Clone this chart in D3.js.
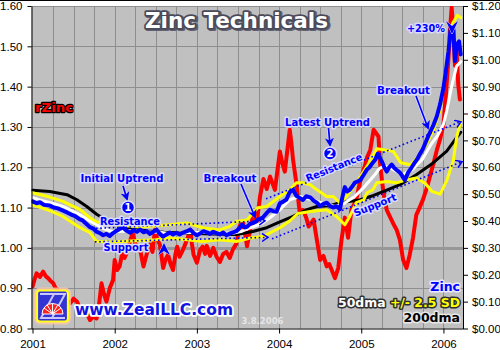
<!DOCTYPE html>
<html><head><meta charset="utf-8">
<script src="https://cdn.jsdelivr.net/npm/d3@7"></script>
<style>body{margin:0;background:#fff;} svg{display:block;}</style>
</head><body>
<svg id="c" width="500" height="350"></svg>
<script>
// ---------- DATA (decimal year, value) ----------
const yearTicks = [2001, 2002, 2003, 2004, 2005, 2006];
const leftTicks = [0.8, 0.9, 1.0, 1.1, 1.2, 1.3, 1.4, 1.5, 1.6];
const rightTicks = [0, 0.1, 0.2, 0.3, 0.4, 0.5, 0.6, 0.7, 0.8, 0.9, 1.0, 1.1, 1.2];

const zinc = [
[2001.00,0.473],[2001.05,0.466],[2001.09,0.470],[2001.14,0.460],[2001.21,0.458],[2001.26,0.450],[2001.31,0.447],[2001.36,0.440],[2001.42,0.432],[2001.47,0.424],[2001.52,0.418],[2001.57,0.407],[2001.61,0.402],[2001.66,0.388],[2001.70,0.377],[2001.74,0.372],[2001.78,0.360],[2001.82,0.355],[2001.86,0.347],[2001.90,0.352],[2001.94,0.344],[2001.98,0.355],[2002.02,0.363],[2002.06,0.370],[2002.10,0.376],[2002.14,0.365],[2002.19,0.356],[2002.23,0.366],[2002.27,0.360],[2002.31,0.368],[2002.35,0.358],[2002.39,0.362],[2002.43,0.352],[2002.47,0.360],[2002.51,0.368],[2002.55,0.352],[2002.59,0.342],[2002.63,0.350],[2002.67,0.357],[2002.71,0.350],[2002.75,0.356],[2002.79,0.350],[2002.84,0.358],[2002.88,0.362],[2002.92,0.368],[2002.96,0.355],[2003.00,0.347],[2003.04,0.354],[2003.08,0.362],[2003.12,0.358],[2003.16,0.352],[2003.20,0.360],[2003.24,0.355],[2003.28,0.350],[2003.32,0.357],[2003.36,0.347],[2003.40,0.353],[2003.44,0.358],[2003.48,0.362],[2003.52,0.374],[2003.55,0.387],[2003.58,0.376],[2003.61,0.378],[2003.65,0.390],[2003.68,0.392],[2003.72,0.398],[2003.74,0.405],[2003.78,0.410],[2003.80,0.412],[2003.85,0.430],[2003.89,0.442],[2003.93,0.436],[2003.97,0.434],[2004.01,0.466],[2004.05,0.472],[2004.09,0.480],[2004.13,0.508],[2004.17,0.516],[2004.21,0.494],[2004.25,0.486],[2004.29,0.478],[2004.33,0.492],[2004.38,0.488],[2004.42,0.476],[2004.46,0.468],[2004.50,0.455],[2004.54,0.464],[2004.58,0.468],[2004.62,0.456],[2004.66,0.450],[2004.70,0.455],[2004.74,0.444],[2004.77,0.488],[2004.80,0.526],[2004.83,0.510],[2004.86,0.516],[2004.90,0.532],[2004.92,0.542],[2004.96,0.548],[2004.99,0.553],[2005.03,0.572],[2005.07,0.592],[2005.10,0.600],[2005.14,0.617],[2005.17,0.628],[2005.20,0.650],[2005.25,0.622],[2005.28,0.600],[2005.31,0.584],[2005.34,0.600],[2005.37,0.610],[2005.40,0.598],[2005.43,0.590],[2005.47,0.580],[2005.49,0.572],[2005.53,0.552],[2005.57,0.580],[2005.61,0.598],[2005.65,0.617],[2005.68,0.630],[2005.71,0.647],[2005.75,0.668],[2005.78,0.690],[2005.81,0.712],[2005.84,0.732],[2005.88,0.758],[2005.92,0.790],[2005.96,0.835],[2006.00,0.895],[2006.03,0.960],[2006.06,1.030],[2006.09,1.120],[2006.12,1.110],[2006.14,0.995],[2006.16,1.055],[2006.19,1.068],[2006.21,1.020]
];

const ma50 = [
[2001.00,0.487],[2001.12,0.476],[2001.25,0.465],[2001.37,0.454],[2001.47,0.440],[2001.58,0.423],[2001.68,0.404],[2001.78,0.386],[2001.88,0.370],[2001.98,0.360],[2002.10,0.362],[2002.25,0.364],[2002.40,0.360],[2002.55,0.358],[2002.70,0.352],[2002.85,0.356],[2003.00,0.357],[2003.15,0.357],[2003.30,0.354],[2003.45,0.355],[2003.55,0.362],[2003.65,0.375],[2003.80,0.392],[2003.90,0.415],[2004.01,0.442],[2004.13,0.479],[2004.25,0.491],[2004.40,0.479],[2004.52,0.467],[2004.68,0.454],[2004.80,0.467],[2004.92,0.491],[2005.04,0.528],[2005.16,0.570],[2005.22,0.595],[2005.28,0.605],[2005.37,0.595],[2005.50,0.572],[2005.62,0.591],[2005.74,0.628],[2005.86,0.690],[2005.93,0.718],[2006.00,0.760],[2006.04,0.810],[2006.10,0.901],[2006.16,0.976],[2006.21,0.993]
];

const bandUpper = [
[2001.00,0.505],[2001.20,0.490],[2001.37,0.473],[2001.58,0.442],[2001.70,0.412],[2001.78,0.397],[2001.94,0.388],[2002.10,0.383],[2002.30,0.378],[2002.50,0.382],[2002.67,0.386],[2002.88,0.393],[2003.07,0.375],[2003.28,0.367],[2003.40,0.380],[2003.48,0.398],[2003.61,0.404],[2003.74,0.449],[2003.85,0.454],[2004.01,0.491],[2004.13,0.516],[2004.21,0.542],[2004.29,0.542],[2004.38,0.535],[2004.46,0.516],[2004.58,0.491],[2004.66,0.491],[2004.74,0.468],[2004.82,0.491],[2004.94,0.542],[2005.07,0.603],[2005.19,0.669],[2005.27,0.665],[2005.39,0.659],[2005.48,0.617],[2005.60,0.609],[2005.72,0.647],[2005.80,0.691],[2005.88,0.740],[2005.96,0.814],[2006.02,0.945],[2006.07,1.075],[2006.11,1.135],[2006.17,1.165],[2006.21,1.157]
];

const bandLower = [
[2001.00,0.460],[2001.20,0.440],[2001.37,0.417],[2001.58,0.375],[2001.70,0.357],[2001.78,0.324],[2001.94,0.322],[2002.20,0.326],[2002.50,0.330],[2002.67,0.337],[2002.88,0.330],[2003.07,0.324],[2003.28,0.330],[2003.48,0.324],[2003.65,0.337],[2003.80,0.342],[2003.89,0.356],[2004.01,0.375],[2004.13,0.400],[2004.23,0.428],[2004.38,0.435],[2004.46,0.438],[2004.58,0.442],[2004.70,0.417],[2004.80,0.386],[2004.86,0.417],[2004.94,0.468],[2005.03,0.479],[2005.07,0.505],[2005.14,0.516],[2005.19,0.542],[2005.31,0.547],[2005.43,0.542],[2005.55,0.553],[2005.67,0.560],[2005.78,0.540],[2005.86,0.510],[2005.96,0.500],[2006.04,0.550],[2006.12,0.625],[2006.16,0.710],[2006.21,0.770]
];

const ma200 = [
[2001.00,0.514],[2001.21,0.510],[2001.42,0.498],[2001.54,0.479],[2001.66,0.454],[2001.78,0.425],[2001.94,0.395],[2002.06,0.383],[2002.20,0.372],[2002.40,0.363],[2002.60,0.358],[2002.90,0.354],[2003.20,0.352],[2003.48,0.350],[2003.68,0.361],[2003.85,0.375],[2004.01,0.397],[2004.17,0.417],[2004.34,0.442],[2004.46,0.454],[2004.62,0.457],[2004.74,0.468],[2004.98,0.478],[2005.15,0.495],[2005.31,0.515],[2005.47,0.535],[2005.67,0.572],[2005.87,0.615],[2006.04,0.660],[2006.16,0.710],[2006.21,0.730]
];

const rZinc = [
[2001.00,0.904],[2001.03,0.925],[2001.05,0.937],[2001.09,0.928],[2001.13,0.941],[2001.16,0.930],[2001.19,0.925],[2001.22,0.918],[2001.25,0.913],[2001.28,0.900],[2001.31,0.896],[2001.34,0.884],[2001.37,0.879],[2001.41,0.872],[2001.46,0.863],[2001.50,0.874],[2001.54,0.867],[2001.58,0.850],[2001.62,0.854],[2001.66,0.838],[2001.70,0.821],[2001.74,0.830],[2001.78,0.825],[2001.81,0.860],[2001.84,0.912],[2001.87,0.885],[2001.90,0.867],[2001.94,0.900],[2001.98,0.920],[2002.00,0.970],[2002.03,0.945],[2002.06,0.954],[2002.09,0.985],[2002.12,0.975],[2002.16,0.995],[2002.19,1.020],[2002.22,1.037],[2002.25,1.010],[2002.27,1.003],[2002.31,0.995],[2002.35,0.954],[2002.39,0.985],[2002.43,1.008],[2002.46,0.990],[2002.49,1.045],[2002.52,1.020],[2002.55,1.008],[2002.59,0.950],[2002.62,0.972],[2002.65,0.983],[2002.68,0.960],[2002.71,0.945],[2002.74,0.985],[2002.76,1.003],[2002.79,0.978],[2002.83,0.995],[2002.88,1.020],[2002.92,1.045],[2002.94,1.010],[2002.96,0.983],[2003.00,0.963],[2003.04,0.995],[2003.07,1.003],[2003.10,0.985],[2003.12,1.005],[2003.16,0.980],[2003.20,1.000],[2003.24,0.978],[2003.28,0.965],[2003.32,0.985],[2003.36,0.990],[2003.40,0.975],[2003.44,0.997],[2003.48,1.010],[2003.52,1.054],[2003.56,1.066],[2003.59,1.030],[2003.61,1.004],[2003.65,1.047],[2003.69,1.087],[2003.73,1.066],[2003.77,1.129],[2003.81,1.171],[2003.85,1.146],[2003.89,1.177],[2003.92,1.160],[2003.95,1.144],[2004.01,1.239],[2004.04,1.210],[2004.07,1.189],[2004.13,1.293],[2004.15,1.260],[2004.17,1.219],[2004.21,1.161],[2004.25,1.090],[2004.29,1.094],[2004.33,1.075],[2004.36,1.053],[2004.42,1.070],[2004.46,1.020],[2004.50,0.970],[2004.54,0.980],[2004.58,0.954],[2004.61,0.960],[2004.64,0.945],[2004.68,0.925],[2004.72,0.950],[2004.76,1.020],[2004.80,1.075],[2004.84,1.025],[2004.88,1.094],[2004.94,1.119],[2004.97,1.150],[2005.00,1.176],[2005.04,1.200],[2005.07,1.224],[2005.11,1.243],[2005.15,1.293],[2005.17,1.288],[2005.21,1.276],[2005.23,1.206],[2005.27,1.137],[2005.31,1.094],[2005.35,1.077],[2005.39,1.060],[2005.43,1.045],[2005.47,1.020],[2005.51,0.970],[2005.55,0.950],[2005.59,0.983],[2005.63,1.025],[2005.67,1.082],[2005.71,1.100],[2005.75,1.119],[2005.80,1.150],[2005.84,1.181],[2005.88,1.210],[2005.92,1.243],[2005.96,1.270],[2006.00,1.306],[2006.03,1.380],[2006.06,1.467],[2006.08,1.542],[2006.10,1.596],[2006.12,1.542],[2006.14,1.452],[2006.16,1.492],[2006.18,1.405],[2006.20,1.368]
];

// trend channels (date, price)
const res1 = [[2001.773,0.3727],[2003.829,0.4007]];
const sup1 = [[2001.760,0.3224],[2003.865,0.3392]];
const res2 = [[2003.841,0.4827],[2006.213,0.7697]];
const sup2 = [[2003.914,0.3336],[2006.226,0.6206]];

// ---------- SCALES ----------
const P = {l:31.5, r:463, t:6, b:328.5};
const x = d3.scaleLinear().domain([2001, 2006.238]).range([32.5, 463]);
const yL = d3.scaleLinear().domain([0.8, 1.6]).range([P.b, P.t]);
const yR = d3.scaleLinear().domain([0, 1.2]).range([P.b, P.t]);

const svg = d3.select("#c");
const FONT = "'DejaVu Sans', Verdana, sans-serif";
const defs = svg.append("defs");
defs.append("clipPath").attr("id","clip").append("rect")
  .attr("x",P.l).attr("y",P.t).attr("width",P.r-P.l).attr("height",P.b-P.t);
defs.append("marker").attr("id","arr").attr("markerUnits","userSpaceOnUse")
  .attr("markerWidth",9).attr("markerHeight",9).attr("refX",7).attr("refY",4.5).attr("orient","auto")
  .append("path").attr("d","M0,0 L9,4.5 L0,9 L2.5,4.5 Z").attr("fill","#0000ff");
defs.append("marker").attr("id","chev").attr("markerUnits","userSpaceOnUse")
  .attr("markerWidth",10).attr("markerHeight",10).attr("refX",6).attr("refY",4).attr("orient","auto")
  .append("path").attr("d","M0,0 L6,4 L0,8").attr("fill","none").attr("stroke","#0000ff").attr("stroke-width",1.5);

svg.append("line").attr("x1",0).attr("x2",500).attr("y1",0.5).attr("y2",0.5).attr("stroke","#000");

// plot background
svg.append("rect").attr("x",P.l).attr("y",P.t).attr("width",P.r-P.l).attr("height",P.b-P.t).attr("fill","#c0c0c0");

// grid
const quarters = d3.range(1, 21).map(i => 2001 + i*0.25);
svg.append("g").selectAll("line").data(quarters).join("line")
  .attr("x1", d => Math.round(x(d))+0.5).attr("x2", d => Math.round(x(d))+0.5)
  .attr("y1", P.t).attr("y2", P.b).attr("stroke","#8e8e8e").attr("stroke-width",1);
svg.append("g").selectAll("line").data(leftTicks.filter(v => v > 0.8)).join("line")
  .attr("x1", P.l).attr("x2", P.r)
  .attr("y1", d => Math.round(yL(d))+0.5).attr("y2", d => Math.round(yL(d))+0.5)
  .attr("stroke", d => Math.abs(d-1)<1e-9 ? "#979797" : "#8e8e8e")
  .attr("stroke-width", d => Math.abs(d-1)<1e-9 ? 3 : 1);

// series
const lineR = d3.line().x(d => x(d[0])).y(d => yR(d[1]));
const lineL = d3.line().x(d => x(d[0])).y(d => yL(d[1]));
const plotG = svg.append("g").attr("clip-path","url(#clip)");
function draw(data, gen, color, w) {
  plotG.append("path").datum(data).attr("d", gen).attr("fill","none")
    .attr("stroke", color).attr("stroke-width", w).attr("stroke-linejoin","round").attr("stroke-linecap","round");
}
draw(rZinc, lineL, "#ff0000", 4);
draw(ma200, lineR, "#000000", 3);
draw(ma50, lineR, "#ffffff", 3);
draw(bandUpper, lineR, "#ffff00", 3);
draw(bandLower, lineR, "#ffff00", 3);
draw(zinc, lineR, "#0000ff", 4);

// trend channels
[res1, sup1, res2, sup2].forEach(seg => {
  svg.append("path").datum(seg).attr("d", lineR).attr("fill","none")
    .attr("stroke","#0000ff").attr("stroke-width",1.6).attr("stroke-dasharray","1.6,2.6")
    .attr("marker-end","url(#chev)");
});

// axes
const axFont = "'Liberation Sans', Arial, sans-serif";
function styleAxis(g) {
  g.selectAll("text").attr("font-family", axFont).attr("font-size", 11.5).attr("fill","#000");
  g.selectAll("line").attr("stroke","#000");
  g.select(".domain").attr("stroke","#000");
}
svg.append("g").attr("transform",`translate(${P.l},0)`)
  .call(d3.axisLeft(yL).tickValues(leftTicks).tickFormat(d3.format(".2f")).tickSize(4).tickSizeOuter(0).tickPadding(5))
  .call(styleAxis);
svg.append("g").attr("transform",`translate(${P.r},0)`)
  .call(d3.axisRight(yR).tickValues(rightTicks).tickFormat(d => "$" + d.toFixed(2)).tickSize(5).tickSizeOuter(0).tickPadding(4))
  .call(styleAxis);
const bx = svg.append("g").attr("transform",`translate(0,${P.b})`)
  .call(d3.axisBottom(x).tickValues(yearTicks).tickFormat(d3.format("d")).tickSize(5).tickSizeOuter(0).tickPadding(6.5))
  .call(styleAxis);
bx.select(".domain").attr("d", `M${P.l},0.5H${P.r}`);

// ---------- TEXT HELPERS ----------
function txt(s, px, py, o) {
  o = Object.assign({size:10, fill:"#0000ff", stroke:"#dcdcff", sw:3, anchor:"middle", rot:0, weight:"bold", family:FONT}, o||{});
  const t = svg.append("text").attr("x",px).attr("y",py).text(s)
    .attr("font-family", o.family).attr("font-weight", o.weight).attr("font-size", o.size)
    .attr("text-anchor", o.anchor).attr("fill", o.fill)
    .attr("stroke", o.stroke).attr("stroke-width", o.sw).attr("stroke-linejoin","round")
    .attr("paint-order","stroke");
  if (o.rot) t.attr("transform", `rotate(${o.rot},${px},${py})`).attr("dominant-baseline","central");
  if (o.len) t.attr("textLength", o.len).attr("lengthAdjust","spacingAndGlyphs");
  return t;
}

// title
txt("Zinc Technicals", 238, 29, {size:21, fill:"#606070", stroke:"#606070", sw:4, len:183});
txt("Zinc Technicals", 236.5, 27.5, {size:21, fill:"#ffffff", stroke:"#4a4a5a", sw:3.5, len:183});

// rZinc label
txt("rZinc", 54, 111.5, {size:13, fill:"#ff0000", stroke:"#000000", sw:2.5, len:38});

// annotations
txt("Initial Uptrend", 122, 182, {len:83});
txt("Resistance", 130, 224.5, {len:60});
txt("Support", 126, 251, {len:45});
txt("Breakout", 230, 182, {len:53});
txt("Latest Uptrend", 327.5, 125.5, {len:85});
txt("Resistance", 334, 167.5, {rot:-22, len:60});
txt("Support", 375, 205, {rot:-22, len:45});
txt("Breakout", 403.5, 93.5, {len:53});
txt("+230%", 426, 32, {len:38});

function arrow(x1,y1,x2,y2) {
  svg.append("line").attr("x1",x1).attr("y1",y1).attr("x2",x2).attr("y2",y2)
    .attr("stroke","#dcdcff").attr("stroke-width",3.2);
  svg.append("line").attr("x1",x1).attr("y1",y1).attr("x2",x2).attr("y2",y2)
    .attr("stroke","#0000ff").attr("stroke-width",1.7).attr("marker-end","url(#arr)");
}
arrow(123,186,127,199);
arrow(241,184,255,217);
arrow(328.5,128,330,145);
arrow(416,96,428,128);

function badge(cx, cy, n) {
  svg.append("circle").attr("cx",cx).attr("cy",cy).attr("r",6.5).attr("fill","#0000ff").attr("stroke","#dcdcff").attr("stroke-width",1.5);
  svg.append("text").attr("x",cx).attr("y",cy+3.6).text(n).attr("text-anchor","middle")
    .attr("font-family",FONT).attr("font-weight","bold").attr("font-size",10).attr("fill","#fff");
}
badge(128, 207.5, "1");
badge(330, 153.5, "2");

// +230% pointer and support up-marker
svg.append("path").attr("d","M446,21 L452,34 L458,21 L452,26 Z").attr("fill","#0000ff").attr("stroke","#dcdcff").attr("stroke-width",1).attr("paint-order","stroke");
svg.append("path").attr("d","M158,255 L164,243 L170,255 L164,251 Z").attr("fill","#0000ff").attr("stroke","#dcdcff").attr("stroke-width",1).attr("paint-order","stroke");

// legend
txt("Zinc", 460, 291, {size:12.5, fill:"#0000ff", stroke:"#e8e8ff", sw:3, anchor:"end"});
const lg = svg.append("text").attr("x",460).attr("y",306.5).attr("text-anchor","end")
  .attr("font-family",FONT).attr("font-weight","bold").attr("font-size",12.5)
  .attr("stroke","#303030").attr("stroke-width",3).attr("stroke-linejoin","round").attr("paint-order","stroke")
  .attr("textLength",122).attr("lengthAdjust","spacingAndGlyphs");
lg.append("tspan").attr("fill","#ffffff").text("50dma ");
lg.append("tspan").attr("fill","#ffff00").text("+/- 2.5 SD");
txt("200dma", 460, 321.5, {size:12.5, fill:"#000000", stroke:"#e8e8e8", sw:3, anchor:"end"});

// date
txt("3.8.2006", 262.5, 323.5, {size:9, fill:"#e6e6e6", stroke:"none", sw:0, len:42});

// logo
const lgG = svg.append("g");
lgG.append("rect").attr("x",34).attr("y",287.5).attr("width",37).attr("height",37).attr("rx",6).attr("fill","#ffc8a8").attr("opacity",0.8);
lgG.append("rect").attr("x",37).attr("y",290.5).attr("width",31).attr("height",31).attr("rx",3)
  .attr("fill","#3434d4").attr("stroke","#ffff20").attr("stroke-width",2.2);
lgG.append("path").attr("d","M40,294 L54,294 L41,318 L56,318 M52,294 L65,294 L52,318 L65,318").attr("fill","none").attr("stroke","#c8c8ff").attr("stroke-width",2);
lgG.append("path").attr("d","M42,314 A10.5,10.5 0 0 1 63,314 Z").attr("fill","#ff2020").attr("stroke","#fff").attr("stroke-width",1);
lgG.append("path").attr("d","M52.5,314 L44,308 M52.5,314 L47,304.5 M52.5,314 L52.5,303.5 M52.5,314 L58,304.5 M52.5,314 L61,308").attr("stroke","#fff").attr("stroke-width",1);
txt("www.ZealLLC.com", 154, 315, {size:15, fill:"#1414e0", stroke:"#ffffff", sw:3.5, len:158});
</script>
</body></html>
